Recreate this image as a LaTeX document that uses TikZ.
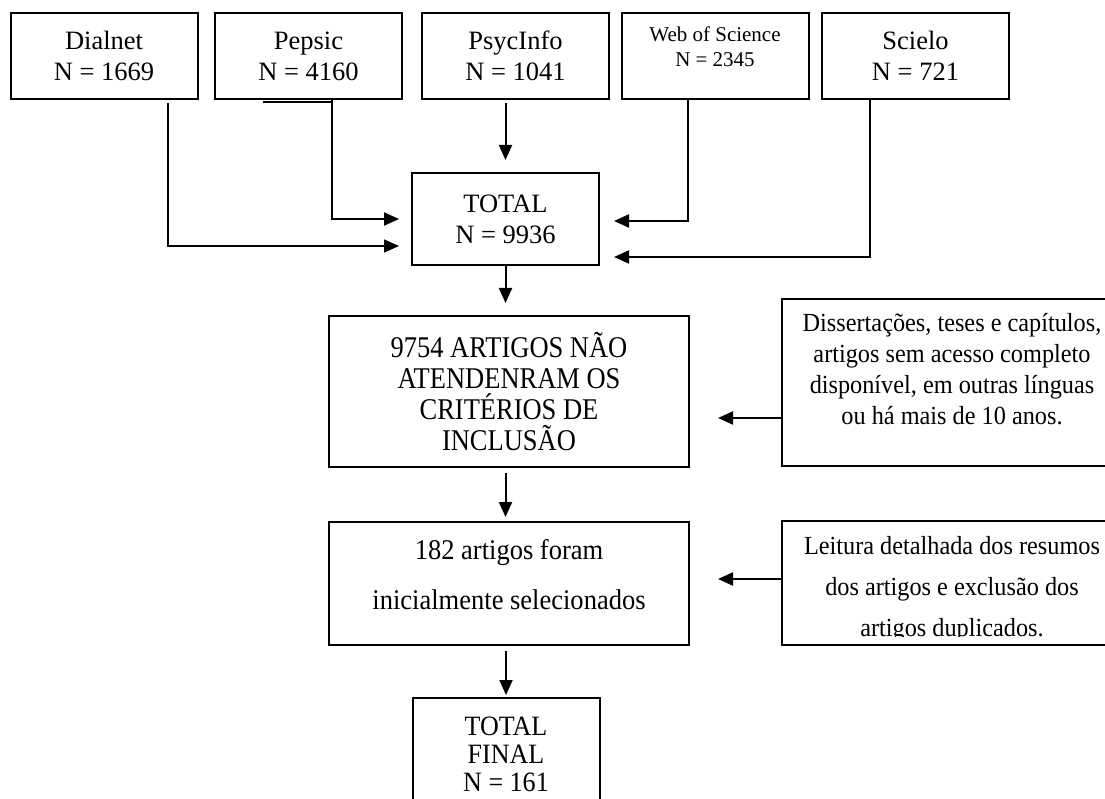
\documentclass[tikz,border=0pt]{standalone}
\usepackage{fontspec}
\setmainfont{Liberation Serif}
\newfontfamily\tallfont{Liberation Serif}[FakeStretch=0.88]
\newfontfamily\narrowfont{Liberation Serif}[FakeStretch=0.93]
\usetikzlibrary{arrows.meta}
\usetikzlibrary{calc}

\newcommand{\liftrows}[2]{\raisebox{#1}[\height][\depth]{\begin{tabular}{@{}c@{}}#2\end{tabular}}}

\begin{document}
\begin{tikzpicture}[x=1pt,y=-1pt,
    elbow/.style={to path={|- (\tikztotarget)}},
    flowtip/.style={-{Triangle[length=15pt,width=13pt]}}]
    \useasboundingbox (0,0) rectangle (1105,799);
    \fill[white] (0,0) rectangle (1105,799);
    % boxes
    \begin{scope}[every node/.style={rectangle,draw,line width=2pt,inner sep=0pt,align=center,
        minimum width=187pt,font=\fontsize{26.5}{31}\selectfont}]
    \node[minimum height=86pt] (dialnet) at (104,56) {Dialnet\\N = 1669};
    \node[minimum height=86pt] (pepsic) at (308.5,56) {Pepsic\\N = 4160};
    \node[minimum height=86pt] (psycinfo) at (515.5,56) {PsycInfo\\N = 1041};
    \node[minimum height=86pt,font=\fontsize{21}{25}\selectfont] (wos) at (715,56)
        {\liftrows{6.5pt}{Web of Science\\N = 2345}};
    \node[minimum height=86pt] (scielo) at (915.5,56) {Scielo\\N = 721};
    \node[minimum height=92pt] (total) at (505.5,219) {TOTAL\\N = 9936};
    \node[minimum width=360pt,minimum height=151pt,font=\tallfont\fontsize{30.1}{31}\selectfont] (excl) at (509,391.5)
        {9754 ARTIGOS NÃO\\ATENDENRAM OS\\CRITÉRIOS DE\\INCLUSÃO};
    \node[minimum width=340pt,minimum height=167pt,font=\narrowfont\fontsize{26.1}{31}\selectfont] (crit) at (952,382.5)
        {\liftrows{10.5pt}{Dissertações, teses e capítulos,\\artigos sem acesso completo\\disponível, em outras línguas\\ou há mais de 10 anos.}};
    \node[minimum width=360pt,minimum height=123pt,font=\narrowfont\fontsize{28.5}{50}\selectfont] (sel) at (509,583.5)
        {\liftrows{9.5pt}{182 artigos foram\\inicialmente selecionados}};
    \node[minimum width=340pt,minimum height=124pt] (leitura) at (952,583) {};
    \node[minimum height=112pt,font=\narrowfont\fontsize{28}{28}\selectfont] (final) at (506,754) {TOTAL\\FINAL\\N = 161};
    \end{scope}
    % last line of this box is cut off at the bottom
    \begin{scope}
    \clip ($(leitura.north west)+(2,2)$) rectangle ($(leitura.south east)+(0,-10)$);
    \node[align=center,font=\narrowfont\fontsize{26.1}{41}\selectfont] at ($(leitura.center)+(0,6)$)
        {Leitura detalhada dos resumos\\dos artigos e exclusão dos\\artigos duplicados.};
    \end{scope}
    % bends
    \coordinate (dlbend) at (168,246);
    \coordinate (psbend) at (332,219);
    \coordinate (wsbend) at (688,221);
    \coordinate (scbend) at (870,257);
    \coordinate (critout) at ($(crit.west)+(0,35.5)$);
    \coordinate (leitout) at ($(leitura.west)+(0,-4)$);
    \draw[line width=2.4pt] ($(pepsic.south)+(-45.5,2)$) -- ($(pepsic.south -| psbend)+(0,2)$);
    % arrows
    \begin{scope}[every edge/.style={draw=black,line width=2pt,flowtip}]
    \path (psycinfo.south -| total.north) edge[shorten <=3pt, shorten >=12pt] (total.north);
    \path (dialnet.south -| dlbend) edge[elbow, line width=1.4pt, shorten <=3pt, shorten >=12pt] (dlbend -| total.west);
    \path (pepsic.south -| psbend) edge[elbow, shorten >=12pt] (psbend -| total.west);
    \path (wos.south -| wsbend) edge[elbow, shorten >=14pt] (wsbend -| total.east);
    \path (scielo.south -| scbend) edge[elbow, shorten >=14pt] (scbend -| total.east);
    \path (total.south) edge[shorten >=12pt] (total.south |- excl.north);
    \path (total.south |- excl.south) edge[shorten <=5pt, shorten >=4pt] (total.south |- sel.north);
    \path (final.north |- sel.south) edge[shorten <=5pt, shorten >=2pt] (final.north);
    \path (critout) edge[shorten >=28pt] (critout -| excl.east);
    \path (leitout) edge[shorten >=28pt] (leitout -| sel.east);
    \end{scope}
\end{tikzpicture}
\end{document}
